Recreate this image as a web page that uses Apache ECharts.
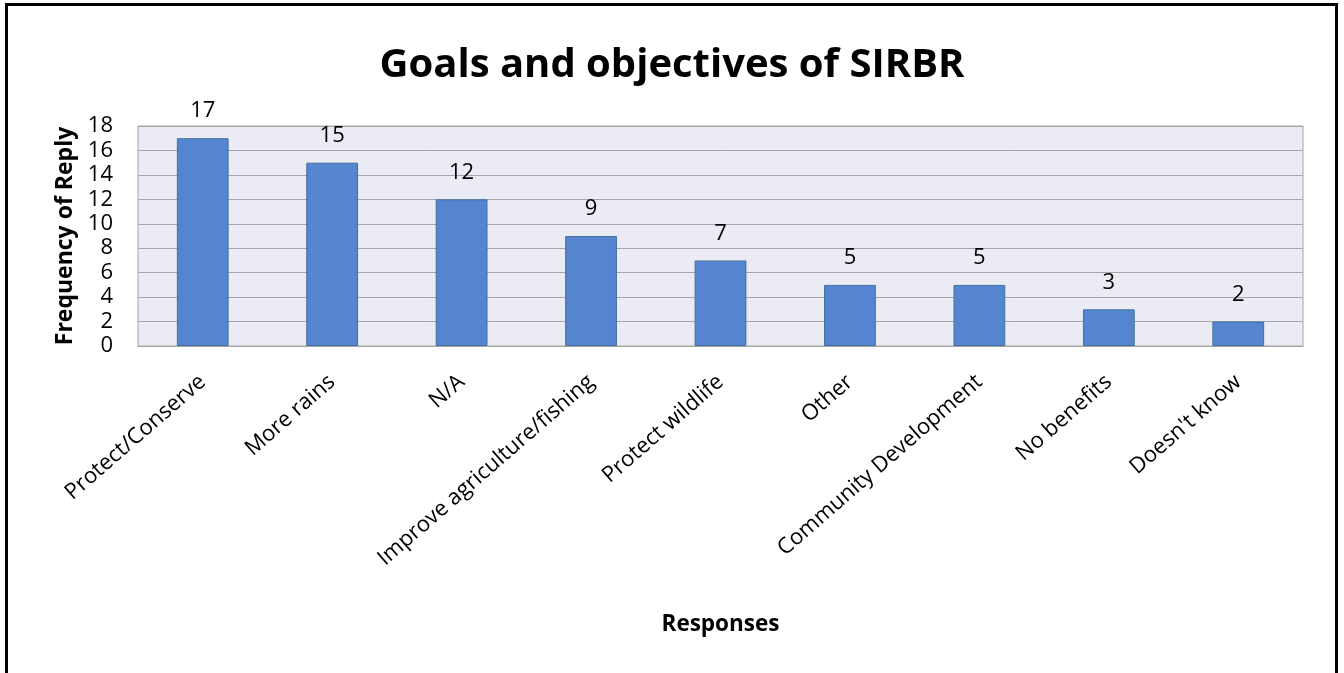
<!DOCTYPE html>
<html>
<head>
<meta charset="utf-8">
<script src="https://cdn.jsdelivr.net/npm/echarts@6/dist/echarts.min.js"></script>
<style>
  html, body { margin: 0; padding: 0; background: #ffffff; }
  #frame { position: absolute; left: 5px; top: 3px; width: 1327px; height: 680px; border: 3px solid #000; box-sizing: content-box; }
  #chart { position: absolute; left: 0; top: 0; width: 1344px; height: 673px; }
</style>
</head>
<body>
<div id="frame"></div>
<div id="chart"></div>
<script>
// Survey responses and how often each was given
const categories = [
  'Protect/Conserve', 'More rains', 'N/A', 'Improve agriculture/fishing',
  'Protect wildlife', 'Other', 'Community Development', 'No benefits', "Doesn't know"
];
const frequencies = [17, 15, 12, 9, 7, 5, 5, 3, 2];
const yTicks = [0, 2, 4, 6, 8, 10, 12, 14, 16, 18];

const FONT = '"Open Sans", sans-serif';
const chart = echarts.init(document.getElementById('chart'));
chart.setOption({
  animation: false,
  title: {
    text: 'Goals and objectives of SIRBR',
    left: 'center',
    top: 41,
    textStyle: { fontFamily: FONT, fontWeight: 'bold', fontSize: 40, color: '#000' }
  },
  grid: {
    left: 138, right: 41, top: 126, bottom: 327,
    show: true, backgroundColor: '#EBEBF5', borderColor: '#A6A6A6', borderWidth: 1
  },
  xAxis: {
    type: 'category',
    data: categories,
    name: 'Responses',
    nameLocation: 'middle',
    nameGap: 267,
    nameTextStyle: { fontFamily: FONT, fontWeight: 'bold', fontSize: 22.5, color: '#000' },
    axisLine: { lineStyle: { color: '#A6A6A6' } },
    axisTick: { show: false },
    axisLabel: { rotate: 41, margin: 33, fontFamily: FONT, fontSize: 22, color: '#000', interval: 0 }
  },
  yAxis: {
    type: 'value',
    min: yTicks[0],
    max: yTicks[yTicks.length - 1],
    interval: 2,
    name: 'Frequency of Reply',
    nameLocation: 'middle',
    nameGap: 61,
    nameTextStyle: { fontFamily: FONT, fontWeight: 'bold', fontSize: 23, color: '#000' },
    axisLine: { show: false },
    axisTick: { show: false },
    axisLabel: { margin: 25, fontFamily: FONT, fontSize: 22, color: '#000', align: 'right' },
    splitLine: { lineStyle: { color: '#A6A6A6', width: 1 } }
  },
  series: [{
    type: 'bar',
    data: frequencies,
    barWidth: '40%',
    itemStyle: { color: '#5585D1', borderColor: '#41719C', borderWidth: 1 },
    label: {
      show: true, position: 'top', distance: 16,
      fontFamily: FONT, fontSize: 22, color: '#000'
    }
  }]
});
</script>
</body>
</html>
